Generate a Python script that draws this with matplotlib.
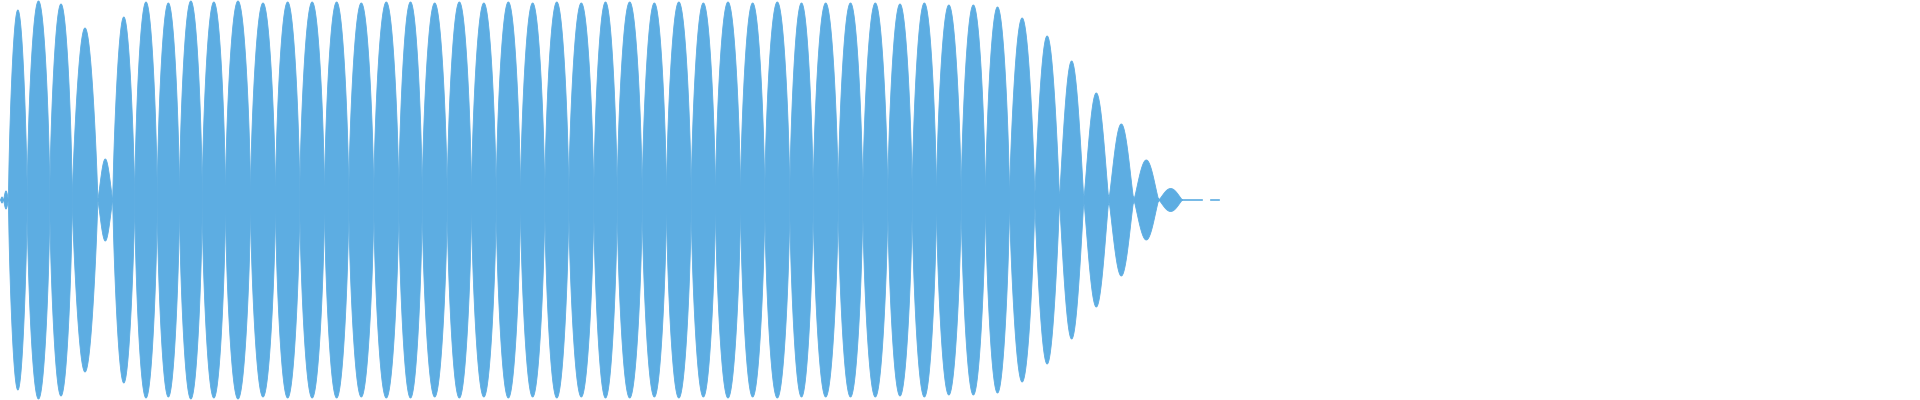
import numpy as np
import matplotlib
matplotlib.use('Agg')
import matplotlib.pyplot as plt

# Zero crossings of the waveform (horizontal position, px of the 1920 wide canvas)
crossings = [0, 3, 8, 26.7, 49.3, 71.7, 97.3, 112.3, 134.3, 156.7, 179, 201.7,
             225, 250, 275, 299.3, 324, 348.3, 373.3, 398.3, 421.7, 446.7,
             471, 495.7, 520, 544.3, 568.3, 593.3, 616.7, 641.7, 666, 690.7,
             715, 740, 764.3, 789.3, 812.7, 837.7, 862.3, 887.3, 911.7, 936,
             960.7, 985, 1009, 1034.3, 1059, 1083.3, 1108.3, 1133.3, 1158.3, 1182]

# Peak amplitude of each lobe (one per interval between crossings)
peaks = [3, 9, 190, 199, 196, 172, 41, 183, 198, 197, 199,
         198, 199, 197, 198, 198, 198, 197, 198,
         198, 197, 198, 197, 198, 197, 198, 197, 198,
         198, 197, 198, 197, 198, 197, 198, 197,
         197, 197, 197, 196, 197, 195, 195, 193,
         182, 164, 139, 107, 76, 40, 11.5]

# Faint tail after the sound dies out (start, end)
tail_start = [1182, 1211]
tail_end = [1202, 1219]

color = '#5dade2'

fig = plt.figure(figsize=(19.2, 4), dpi=100)
ax = fig.add_axes([0, 0, 1, 1])

for i in range(len(peaks)):
    x0, x1 = crossings[i], crossings[i + 1]
    t = np.linspace(x0, x1, 80)
    # loud lobes look blunter (slightly compressed), quiet ones more pointed
    p = 1.2 - 0.6 * (peaks[i] / 199) ** 3
    env = peaks[i] * np.sin(np.pi * (t - x0) / (x1 - x0)).clip(0) ** p
    env = np.maximum(env, min(peaks[i], 180) * 0.04)
    ax.fill_between(t, -env, env, color=color, linewidth=0.6, edgecolor=color)

for s, e in zip(tail_start, tail_end):
    ax.plot([s, e], [0, 0], color=color, linewidth=1.2)

ax.set_xlim(0, 1920)
ax.set_ylim(-200.5, 199.5)
ax.axis('off')

fig.savefig('out.png', dpi=100)
